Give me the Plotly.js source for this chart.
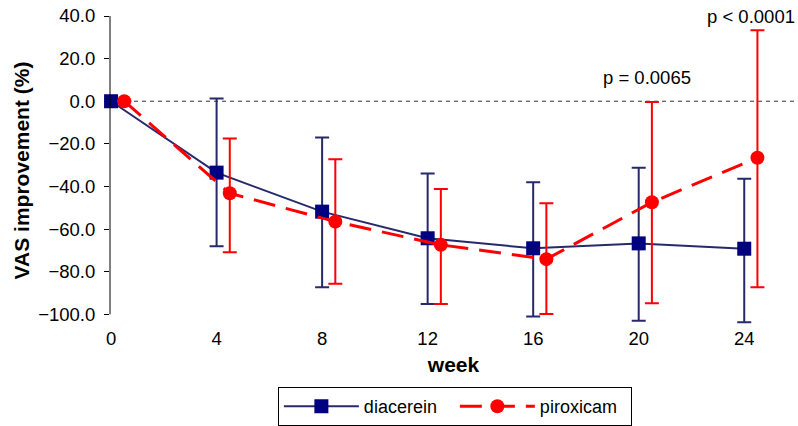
<!DOCTYPE html>
<html>
<head>
<meta charset="utf-8">
<script src="https://cdn.plot.ly/plotly-3.0.1.min.js"></script>
<style>html,body{margin:0;padding:0;background:#fff}#chart{width:798px;height:426px}</style>
</head>
<body>
<div id="chart"></div>
<script>
var weeks = [0, 4, 8, 12, 16, 20, 24];
var piroxicamWeeks = [0.5, 4.5, 8.5, 12.5, 16.5, 20.5, 24.5];

var diacerein = [0, -33.5, -51.8, -64.3, -69.0, -66.7, -69.2];
var diacereinUpper = [0, 1.3, -17.0, -33.9, -38.0, -31.2, -36.4];
var diacereinLower = [0, -68.0, -87.3, -95.2, -101.0, -103.0, -103.7];

var piroxicam = [0, -43.2, -56.5, -67.4, -74.1, -47.4, -26.5];
var piroxicamUpper = [0, -17.5, -27.2, -41.2, -47.9, -0.3, 33.3];
var piroxicamLower = [0, -70.9, -85.7, -95.2, -99.8, -94.8, -87.3];

var xTicks = [0, 4, 8, 12, 16, 20, 24];
var yTicks = [-100, -80, -60, -40, -20, 0, 20, 40];
var pLabels = ["p = 0.0065", "p < 0.0001"];
var pX = [20.3, 24.25];
var pY = [11, 40];

function plus(v, u){ return v.map(function(d,i){ return u[i]-d; }); }
function minus(v, l){ return v.map(function(d,i){ return d-l[i]; }); }

var navy = "#262a6b";
var traces = [
  {
    x: weeks, y: diacerein, name: "diacerein", type: "scatter", mode: "lines+markers",
    cliponaxis: false,
    line: {color: navy, width: 2},
    marker: {symbol: "square", size: 14, color: "#000080"},
    error_y: {type: "data", symmetric: false, array: plus(diacerein, diacereinUpper),
      arrayminus: minus(diacerein, diacereinLower), color: navy, thickness: 2, width: 7}
  },
  {
    x: piroxicamWeeks, y: piroxicam, name: "piroxicam", type: "scatter", mode: "lines+markers",
    cliponaxis: false,
    line: {color: "#ff0000", width: 3, dash: "22px,11px"},
    marker: {symbol: "circle", size: 14, color: "#ff0000"},
    error_y: {type: "data", symmetric: false, array: plus(piroxicam, piroxicamUpper),
      arrayminus: minus(piroxicam, piroxicamLower), color: "#ff0000", thickness: 2, width: 7}
  }
];

var yMin = yTicks[0], yMax = yTicks[yTicks.length - 1];

var layout = {
  width: 798, height: 426,
  margin: {l: 110, r: 1, t: 16, b: 100},
  paper_bgcolor: "#fff", plot_bgcolor: "#fff",
  font: {family: "Liberation Sans, Arial, sans-serif", size: 18.5, color: "#000"},
  showlegend: true,
  legend: {orientation: "h", x: 0.502, xanchor: "center", y: -0.198, yanchor: "top",
    bordercolor: "#000", borderwidth: 1, font: {size: 18}, bgcolor: "#fff",
    itemwidth: 75, entrywidth: 86, entrywidthmode: "pixels"},
  xaxis: {range: [-0.04, 26], tickvals: xTicks, ticktext: xTicks.map(String),
    showline: false, showgrid: false, zeroline: false, ticks: "",
    tickfont: {size: 18.5},
    title: {text: "<b>week</b>", font: {size: 21}, standoff: 9}},
  yaxis: {range: [yMin - 5, yMax], tickvals: yTicks, tickformat: ".1f",
    showline: false, ticks: "outside", ticklen: 5, ticklabelstandoff: 5,
    tickcolor: "#000", showgrid: false, zeroline: false, tickfont: {size: 18.5},
    title: {text: "<b>VAS improvement (%)</b>", font: {size: 21}, standoff: 2}},
  shapes: [
    {type: "line", xref: "paper", x0: 0, x1: 1, yref: "y", y0: 0, y1: 0,
      line: {color: "#333", width: 1, dash: "4px,4px"}, layer: "below"},
    {type: "line", xref: "paper", x0: 0, x1: 0, yref: "y", y0: yMin, y1: yMax,
      line: {color: "#000", width: 1}}
  ],
  annotations: pLabels.map(function(t, i){
    return {text: t, x: pX[i], y: pY[i], xref: "x", yref: "y", showarrow: false,
      font: {size: 18.5, color: "#000"}};
  })
};

Plotly.newPlot("chart", traces, layout, {displayModeBar: false, staticPlot: true});
</script>
</body>
</html>
